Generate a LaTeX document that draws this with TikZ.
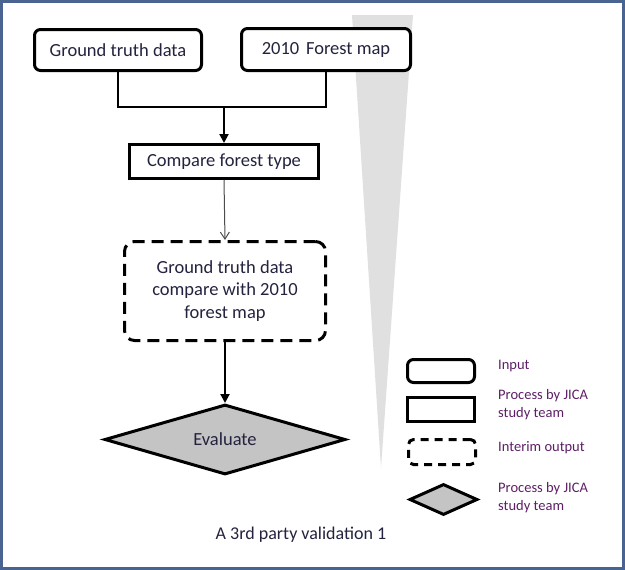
\documentclass[tikz,border=0pt]{standalone}
\usepackage{fontspec}
\setmainfont{Carlito}
\usetikzlibrary{shapes.geometric,arrows.meta}
\definecolor{framec}{HTML}{4A6491}
\definecolor{wedgec}{HTML}{E0E0E0}
\definecolor{txtc}{HTML}{23233F}
\definecolor{legc}{HTML}{5E1F66}
\definecolor{diafill}{HTML}{C4C4C4}
\begin{document}
\begin{tikzpicture}[x=1pt,y=-1pt,
  inbox/.style={draw,fill=white,line width=3pt,rounded corners=6pt,inner sep=0pt,font=\fontsize{18.5}{22}\selectfont,text=txtc},
  procbox/.style={draw,fill=white,line width=3pt,inner sep=0pt,font=\fontsize{18.5}{22}\selectfont,text=txtc},
  interim/.style={draw,fill=white,line width=3pt,dash pattern=on 12pt off 7pt,rounded corners=10pt,inner sep=0pt,align=center,font=\fontsize{18.5}{22.5}\selectfont,text=txtc},
  evalbox/.style={draw,diamond,shape aspect=3,line width=3pt,fill=diafill,inner sep=0pt,font=\fontsize{18.5}{22}\selectfont,text=txtc},
  legtext/.style={anchor=west,align=left,inner sep=0pt,font=\fontsize{14.5}{18}\selectfont,text=legc},
  conn/.style={line width=2pt},
  thinarrow/.style={line width=1pt,draw=black!70,-{Straight Barb[length=7pt,width=9pt]}},
  fillarrow/.style={line width=2pt,-{Triangle[length=9pt,width=9pt]}}
]
\useasboundingbox (0,0) rectangle (625,570);
\fill[white] (0,0) rectangle (625,570);
\draw[framec,line width=3pt] (1.5,1.5) rectangle (623.5,568.5);
% wedge
\fill[wedgec] (352,15) -- (413,15) -- (381,468) -- cycle;

% main flow
\node[inbox,minimum width=167pt,minimum height=41pt] (gt) at (118,50) {Ground truth data};
\node[inbox,minimum width=169pt,minimum height=42pt] (fm) at (326,49.5) {2010\hspace{2.5pt} Forest map};
\node[procbox,minimum width=189pt,minimum height=34pt] (cmp) at (224,161.5) {Compare forest type};
\node[interim,minimum width=201pt,minimum height=99pt] (cw) at (225,291) {Ground truth data\\compare with 2010\\forest map};
\node[evalbox,minimum width=241pt,minimum height=70pt] (ev) at (225,439.5) {Evaluate};
\coordinate (j) at (cmp.north |- 0,107);

\draw[conn] (gt.south) |- (j) -| (fm.south);
\draw[fillarrow] (j) -- (cmp.north);
\draw[thinarrow] (cmp.south) -- (cw.north);
\draw[fillarrow] (cw.south) -- (ev.north);

\node[inner sep=0pt,font=\fontsize{18}{21}\selectfont,text=txtc] (cap) at (301,535) {A 3rd party validation 1};

% legend
\node[inbox,minimum width=67pt,minimum height=23pt] (lin) at (441,371) {};
\node[procbox,minimum width=67pt,minimum height=24pt] (lpr) at (441,409.5) {};
\node[interim,dash pattern=on 8pt off 6pt,rounded corners=5pt,minimum width=67pt,minimum height=25pt] (lint) at (442,452) {};
\node[evalbox,minimum width=68pt,minimum height=31pt] (ldia) at (443.5,499.5) {};

\node[legtext] (tin) at (498,366) {Input};
\node[legtext] (tpr) at (498,405) {Process by JICA\\study team};
\node[legtext] (tint) at (498,448) {Interim output};
\node[legtext] (tdia) at (498,498) {Process by JICA\\study team};
\end{tikzpicture}
\end{document}
